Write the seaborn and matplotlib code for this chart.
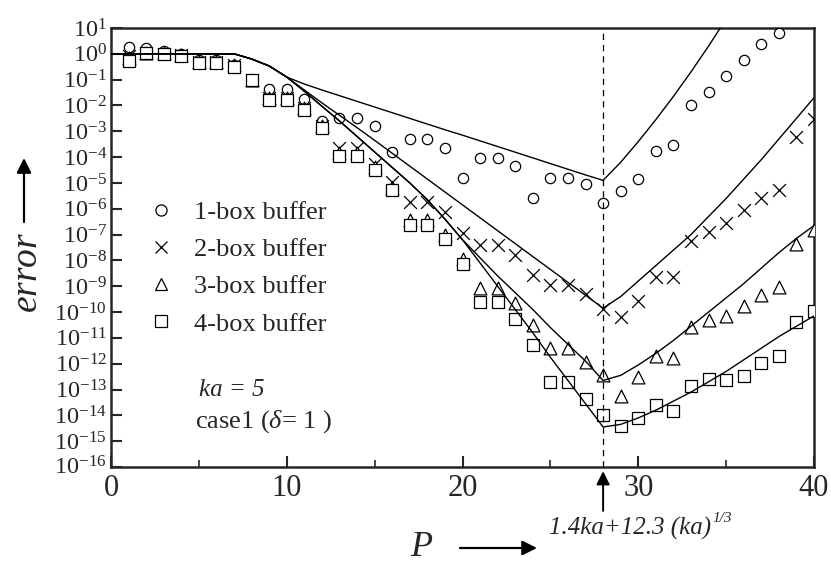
import numpy as np
import pandas as pd
import matplotlib
matplotlib.use("Agg")
import matplotlib.pyplot as plt
import matplotlib.transforms as mtransforms
import seaborn as sns
from matplotlib.lines import Line2D

# ---------------- data (log10 of error) ----------------
P_points = list(range(1, 41))

err1_log = [0.25, 0.22, 0.1, 0.0, -0.25, -0.25, -0.45, -1.0, -1.38, -1.38,
            -1.75, -2.6, -2.47, -2.47, -2.78, -3.82, -3.28, -3.28, -3.63, -4.79,
            -4.05, -4.05, -4.36, -5.6, -4.79, -4.79, -5.06, -5.79, -5.33, -4.86,
            -3.78, -3.55, -1.97, -1.47, -0.85, -0.23, 0.39, 0.81, np.nan, np.nan]
err2_log = [-0.1, 0.05, 0.0, -0.05, -0.3, -0.3, -0.45, -1.0, -1.7, -1.7,
            -2.1, -2.8, -3.63, -3.63, -4.25, -4.98, -5.75, -5.75, -6.14, -6.95,
            -7.41, -7.41, -7.8, -8.57, -8.96, -8.96, -9.31, -9.88, -10.19, -9.58,
            -8.65, -8.65, -7.26, -6.91, -6.56, -6.06, -5.6, -5.29, -3.24, -2.51]
err3_log = [-0.15, 0.05, 0.02, -0.05, -0.3, -0.3, -0.45, -1.0, -1.72, -1.72,
            -2.1, -2.8, -3.85, -3.85, -4.4, -5.2, -6.45, -6.45, -7.0, -7.95,
            -9.07, -9.07, -9.65, -10.5, -11.39, -11.39, -11.93, -12.43, -13.24, -12.51,
            -11.7, -11.78, -10.58, -10.31, -10.15, -9.77, -9.34, -9.03, -7.37, -6.83]
err4_log = [-0.27, 0.04, 0.0, -0.08, -0.35, -0.35, -0.5, -1.0, -1.78, -1.78,
            -2.16, -2.86, -3.94, -3.94, -4.48, -5.29, -6.64, -6.64, -7.18, -8.15,
            -9.61, -9.61, -10.27, -11.27, -12.7, -12.7, -13.36, -14.0, -14.4, -14.09,
            -13.59, -13.82, -12.86, -12.59, -12.63, -12.47, -11.97, -11.7, -10.39, -9.96]

# theoretical estimate curves (log10), P = 0..40
P_line = list(range(0, 41))
est1_log = [0, 0, 0, 0, 0, 0, 0, 0, -0.2, -0.47, -0.9, -1.17, -1.4, -1.62, -1.84,
            -2.06, -2.28, -2.5, -2.72, -2.94, -3.15, -3.37, -3.59, -3.81, -4.03,
            -4.25, -4.47, -4.69, -4.9, -4.2, -3.4, -2.55, -1.65, -0.7, 0.3, 1.35,
            2.4, 3.45, 4.5, 5.55, 6.6]
est2_log = [0, 0, 0, 0, 0, 0, 0, 0, -0.2, -0.47, -0.9, -1.4, -1.9, -2.38, -2.86,
            -3.35, -3.85, -4.35, -4.85, -5.35, -5.85, -6.35, -6.85, -7.35, -7.85,
            -8.35, -8.85, -9.35, -9.85, -9.4, -8.8, -8.2, -7.6, -7.0, -6.3, -5.6,
            -4.85, -4.1, -3.3, -2.5, -1.7]
est3_log = [0, 0, 0, 0, 0, 0, 0, 0, -0.2, -0.47, -0.9, -1.45, -2.03, -2.6, -3.2,
            -3.8, -4.4, -5.0, -5.65, -6.4, -7.2, -7.9, -8.6, -9.25, -9.9,
            -10.6, -11.25, -11.9, -12.65, -12.45, -12.05, -11.6, -11.1, -10.55, -10.0,
            -9.45, -8.9, -8.3, -7.7, -7.15, -6.65]
est4_log = [0, 0, 0, 0, 0, 0, 0, 0, -0.2, -0.47, -0.9, -1.45, -2.03, -2.6, -3.2,
            -3.8, -4.4, -5.0, -5.65, -6.4, -7.2, -8.1, -9.0, -9.9, -10.8,
            -11.75, -12.65, -13.55, -14.45, -14.35, -14.1, -13.8, -13.45, -13.1, -12.7,
            -12.3, -11.85, -11.4, -10.95, -10.55, -10.15]

series_labels = ["1-box buffer", "2-box buffer", "3-box buffer", "4-box buffer"]
P_crit = 28
x_ticks = [0, 10, 20, 30, 40]
x_minor = [5, 15, 25, 35]
y_exponents = list(range(-16, 2))

# ---------------- style ----------------
sns.set_style("ticks")
plt.rcParams["font.family"] = ["Liberation Serif", "DejaVu Serif"]
plt.rcParams["mathtext.fontset"] = "custom"
plt.rcParams["mathtext.rm"] = "Liberation Serif"
plt.rcParams["mathtext.it"] = "Liberation Serif:italic"
plt.rcParams["mathtext.bf"] = "Liberation Serif:bold"

W, H = 831, 562
fig = plt.figure(figsize=(W / 100, H / 100), dpi=100)
ax = fig.add_axes([111 / W, (H - 467) / H, (814 - 111) / W, (467 - 28) / H])

pts = pd.DataFrame({"P": P_points * 4,
                    "err": 10.0 ** np.array(err1_log + err2_log + err3_log + err4_log),
                    "series": sum([[s] * 40 for s in series_labels], [])})
lines = pd.DataFrame({"P": P_line * 4,
                      "err": 10.0 ** np.array(est1_log + est2_log + est3_log + est4_log),
                      "series": sum([[s] * 41 for s in series_labels], [])})

markers = {"1-box buffer": "o", "2-box buffer": "x", "3-box buffer": "^", "4-box buffer": "s"}
sizes = {"1-box buffer": 55, "2-box buffer": 85, "3-box buffer": 85, "4-box buffer": 70}

for i, s in enumerate(series_labels):
    d = pts[pts.series == s].dropna()
    if markers[s] == "x":
        sns.scatterplot(data=d, x="P", y="err", marker="x", s=sizes[s], color="black",
                        linewidth=0.9, ax=ax, zorder=3 + i, legend=False)
    else:
        sns.scatterplot(data=d, x="P", y="err", marker=markers[s], s=sizes[s],
                        facecolor="white", edgecolor="black", linewidth=0.9,
                        ax=ax, zorder=3 + i, legend=False)

for s in series_labels:
    d = lines[lines.series == s]
    sns.lineplot(data=d, x="P", y="err", color="black", linewidth=1.0, ax=ax,
                 zorder=10, legend=False)

ax.axvline(P_crit, color="black", linestyle=(0, (5, 4)), linewidth=0.9, zorder=9)

ax.set_yscale("log")
ax.set_ylim(1e-16, 1e1)
ax.set_xlim(0, 40)
ax.set_yticks([10.0 ** k for k in y_exponents])
ax.set_yticklabels([r"$10^{%d}$" % k for k in y_exponents], fontsize=17.5)
ax.yaxis.set_minor_locator(matplotlib.ticker.NullLocator())
ax.set_xticks(x_ticks)
ax.set_xticks(x_minor, minor=True)
ax.set_xticklabels([str(v) for v in x_ticks], fontsize=22)
ax.tick_params(axis="both", which="major", direction="in", length=8, width=1.5, pad=3)
ax.tick_params(axis="x", which="major", pad=5)
ax.tick_params(axis="x", which="minor", direction="in", length=5, width=1.2)
ax.tick_params(axis="y", which="major", pad=3)
ax.set_xlabel("")
ax.set_ylabel("")
for sp in ax.spines.values():
    sp.set_linewidth(1.8)
    sp.set_visible(True)

# lift the lowest y label a touch so it clears the "0" below it
bottom_lbl = ax.get_yticklabels()[0]
bottom_lbl.set_transform(bottom_lbl.get_transform() +
                         mtransforms.ScaledTranslation(0, 1.5 / 72, fig.dpi_scale_trans))

# legend
handles = []
for s in series_labels:
    if markers[s] == "x":
        handles.append(Line2D([], [], marker="x", color="black", linestyle="none",
                              markersize=9, markeredgewidth=0.9))
    else:
        handles.append(Line2D([], [], marker=markers[s], color="black", linestyle="none",
                              markerfacecolor="white", markersize=8, markeredgewidth=0.9))
leg = ax.legend(handles, series_labels, loc="upper left", frameon=False, fontsize=19,
                bbox_to_anchor=((137 - 111) / (814 - 111), 1 - (190 - 28) / (467 - 28)),
                handlelength=1.0, handletextpad=0.75, labelspacing=0.52, borderaxespad=0)

# texts
def fx(x):
    return x / W

def fy(y):
    return 1 - y / H

fig.text(fx(199), fy(390), "ka = 5", fontsize=18, style="italic", ha="left", va="center")
fig.text(fx(195), fy(422), r"case1 ($\delta$= 1 )", fontsize=19, ha="left", va="center")
fig.text(fx(711), fy(528), "1.4ka+12.3 (ka)", fontsize=18, style="italic",
         ha="right", va="center")
fig.text(fx(712), fy(518), "1/3", fontsize=11, style="italic", ha="left", va="center")
fig.text(fx(422), fy(547), r"$P$", fontsize=26, ha="center", va="center")
fig.text(fx(28), fy(272), r"$error$", fontsize=27, ha="center", va="center", rotation=90)

arrow = dict(arrowstyle="-|>", mutation_scale=22, lw=1.6, color="black", shrinkA=0, shrinkB=0)
ax.annotate("", xy=(24, H - 158), xytext=(24, H - 222), xycoords="figure pixels",
            textcoords="figure pixels", arrowprops=arrow, annotation_clip=False)
ax.annotate("", xy=(537, H - 548), xytext=(460, H - 548), xycoords="figure pixels",
            textcoords="figure pixels", arrowprops=arrow, annotation_clip=False)
ax.annotate("", xy=(P_crit, 1e-16), xytext=(P_crit, -0.1),
            xycoords=("data", "data"), textcoords=("data", "axes fraction"),
            arrowprops=dict(arrowstyle="-|>", mutation_scale=20, lw=1.4, color="black",
                            shrinkA=0, shrinkB=3), annotation_clip=False)

fig.savefig("out.png", dpi=100)
